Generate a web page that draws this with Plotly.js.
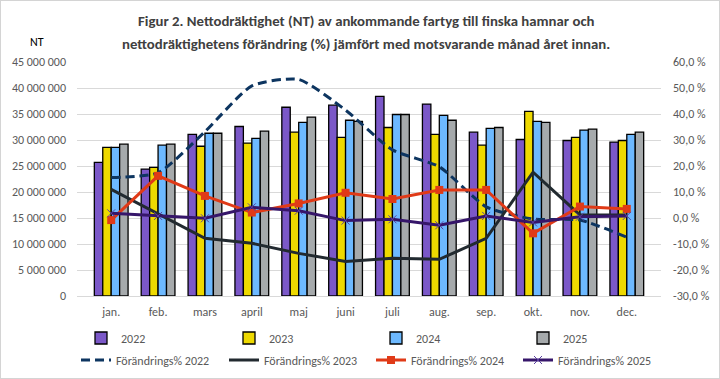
<!DOCTYPE html>
<html><head><meta charset="utf-8">
<script src="https://cdn.plot.ly/plotly-3.0.1.min.js"></script>
<style>html,body{margin:0;padding:0;background:#fff}
#c{width:720px;height:379px;box-sizing:border-box;border:1px solid #D4D4D4;}</style>
</head><body><div id="c"></div>
<script>
const months = ["jan.","feb.","mars","april","maj","juni","juli","aug.","sep.","okt.","nov.","dec."];
const nt2022 = [25700000,24400000,31100000,32600000,36300000,36700000,38400000,36900000,31500000,30100000,29900000,29600000];
const nt2023 = [28600000,24750000,28800000,29400000,31500000,30500000,32400000,31100000,29000000,35500000,30500000,29900000];
const nt2024 = [28600000,29000000,31300000,30300000,33400000,33800000,34900000,34750000,32250000,33600000,31900000,31100000];
const nt2025 = [29200000,29200000,31300000,31700000,34400000,33600000,34900000,33800000,32400000,33400000,32100000,31500000];
const pct2022 = [15.6,17.4,33.2,50.8,53.3,41.5,26.2,19.7,4.3,-0.4,-0.8,-7.4];
const pct2023 = [11.0,1.5,-7.8,-9.7,-13.6,-16.7,-15.5,-15.9,-7.8,17.6,1.2,1.2];
const pct2024 = [-0.8,16.2,8.5,2.1,5.6,9.7,7.3,10.8,10.8,-5.9,4.4,3.5];
const pct2025 = [1.8,0.8,-0.1,4.1,2.8,-1.0,-0.5,-2.8,0.8,-1.7,0.5,0.8];
const leftTicks = [0,5000000,10000000,15000000,20000000,25000000,30000000,35000000,40000000,45000000];
const leftLabels = ["0","5 000 000","10 000 000","15 000 000","20 000 000","25 000 000","30 000 000","35 000 000","40 000 000","45 000 000"];
const rightTicks = [-30,-20,-10,0,10,20,30,40,50,60];
const rightLabels = ["-30,0 %","-20,0 %","-10,0 %","0,0 %","10,0 %","20,0 %","30,0 %","40,0 %","50,0 %","60,0 %"];
const titleLines = ["Figur 2. Nettodräktighet (NT) av ankommande fartyg till finska hamnar och",
                    "nettodräktighetens förändring (%) jämfört med motsvarande månad året innan."];

const F = "Carlito, 'Liberation Sans Narrow', 'DejaVu Sans Condensed', Arial, sans-serif";
const H = 377, PH = 234;
function py(pix){ return (296 - pix) / PH; }
function cy(pix){ return 1 - pix / H; }
function px(pix){ return (pix - 76) / 584; }
// legend slots: column pixel x per row, and row pixel y
const colXBars = [80, 228, 375, 522];
const colXLines = [75, 223, 370, 517];
const rowY = [337, 359];

function bar(name, y, color, lg){
  return {type:'bar', name:name, x:months, y:y, marker:{color:color, line:{color:'#000', width:1.3}}, legend:lg, hoverinfo:'skip'};
}
function ln(name, y, color, lg, extra){
  return Object.assign({type:'scatter', mode:'lines', name:name, x:months, y:y, yaxis:'y2', legend:lg,
    line:{color:color, width:3}, hoverinfo:'skip'}, extra||{});
}
const data = [
  bar('2022', nt2022, '#7B58C8', 'legend'),
  bar('2023', nt2023, '#EED900', 'legend2'),
  bar('2024', nt2024, '#6DB9FF', 'legend3'),
  bar('2025', nt2025, '#A6AAAC', 'legend4'),
  ln('Förändrings% 2022', pct2022, '#0D3560', 'legend5', {line:{color:'#0D3560', width:3, dash:'9px,5px', shape:'spline', smoothing:0.6}}),
  ln('Förändrings% 2023', pct2023, '#222A30', 'legend6'),
  ln('Förändrings% 2024', pct2024, '#E03A17', 'legend7', {mode:'lines+markers', marker:{symbol:'square', size:8, color:'#E03A17'}}),
  ln('Förändrings% 2025', pct2025, '#36166A', 'legend8', {mode:'lines+markers', marker:{symbol:'x-thin', size:8, line:{color:'#5A3FA0', width:1}, color:'#5A3FA0'}})
];
const layout = {
  width:718, height:H, showlegend:true,
  margin:{l:76, r:58, t:61, b:82},
  paper_bgcolor:'#fff', plot_bgcolor:'#fff',
  font:{family:F, size:12, color:'#595959'},
  barmode:'group', bargap:0.28, bargroupgap:0,
  xaxis:{type:'category', tickfont:{size:12, color:'#595959'}, showline:true, linecolor:'#D9D9D9', linewidth:1, ticks:'', showgrid:false, automargin:false, ticklabelstandoff:5},
  yaxis:{range:[0,45000000], tickvals:leftTicks, ticktext:leftLabels, showgrid:true, gridcolor:'#D9D9D9', gridwidth:1, zeroline:false, ticks:'', tickfont:{size:12}, ticklabelstandoff:10, automargin:false},
  yaxis2:{range:[-30,60], overlaying:'y', side:'right', tickvals:rightTicks, ticktext:rightLabels, showgrid:false, zeroline:false, ticks:'', tickfont:{size:12}, ticklabelstandoff:11, automargin:false},
  annotations:[
    {text:'NT', xref:'paper', yref:'paper', x:px(36), y:py(42), xanchor:'center', yanchor:'middle', showarrow:false, font:{family:F, size:12, color:'#000'}},
    {text:'<b>'+titleLines[0]+'</b>', xref:'paper', yref:'paper', x:px(365), y:py(21), xanchor:'center', yanchor:'middle', showarrow:false, font:{family:F, size:14.8, color:'#404040'}},
    {text:'<b>'+titleLines[1]+'</b>', xref:'paper', yref:'paper', x:px(365), y:py(44), xanchor:'center', yanchor:'middle', showarrow:false, font:{family:F, size:14.8, color:'#404040'}}
  ]
};
const lgNames = ['legend','legend2','legend3','legend4','legend5','legend6','legend7','legend8'];
lgNames.forEach((n, i) => {
  const row = Math.floor(i / 4), col = i % 4;
  const xpix = row === 0 ? colXBars[col] : colXLines[col];
  layout[n] = {orientation:'h', xref:'paper', yref:'container', x:px(xpix), xanchor:'left',
    y:cy(rowY[row]), yanchor:'middle', font:{size:12, color:'#595959'}, itemwidth:30,
    bgcolor:'rgba(0,0,0,0)'};
});
Plotly.newPlot('c', data, layout, {displayModeBar:false, staticPlot:true});
</script></body></html>
